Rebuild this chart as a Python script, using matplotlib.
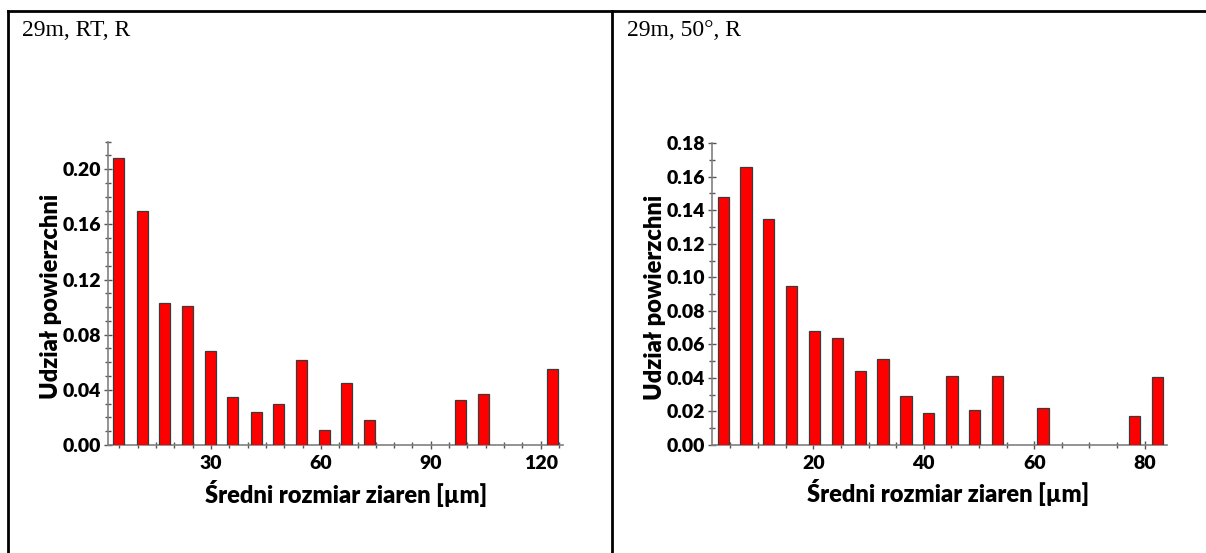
import matplotlib
matplotlib.use("Agg")
import matplotlib.pyplot as plt
from matplotlib.lines import Line2D
from matplotlib.ticker import MultipleLocator, FormatStrFormatter

# ---- data ----
left_title = "29m, RT, R"
right_title = "29m, 50°, R"
xlabel = "Średni rozmiar ziaren [µm]"
ylabel = "Udział powierzchni"

left_x = [4.9, 11.2, 17.4, 23.6, 29.8, 36.0, 42.3, 48.5, 54.7, 60.9, 67.1, 73.4,
          98.2, 104.5, 123.1]
left_y = [0.208, 0.170, 0.103, 0.101, 0.068, 0.035, 0.024, 0.030, 0.062, 0.011,
          0.045, 0.018, 0.033, 0.037, 0.055]

right_x = [3.7, 7.8, 11.9, 16.1, 20.2, 24.4, 28.5, 32.6, 36.8, 40.9, 45.1, 49.2,
           53.4, 61.6, 78.2, 82.3]
right_y = [0.148, 0.166, 0.135, 0.095, 0.068, 0.064, 0.044, 0.051, 0.029, 0.019,
           0.041, 0.021, 0.041, 0.022, 0.0175, 0.0405]

left_xticks = [30, 60, 90, 120]
right_xticks = [20, 40, 60, 80]

W, H = 1206, 553
fig = plt.figure(figsize=(W / 100, H / 100), dpi=100)
fig.patch.set_facecolor("white")

FONT = "Lato"
WEIGHT = "heavy"
AXCOL = "#808080"


def px_rect(x0, x1, ytop, ybot):
    return [x0 / W, 1 - ybot / H, (x1 - x0) / W, (ybot - ytop) / H]


def style(ax, xlim, ylim, xticks, ymajor, yminor, barw, xs, ys):
    ax.bar(xs, ys, width=barw, color="#ff0000", edgecolor="#3a3a3a", linewidth=0.9, zorder=3)
    ax.set_xlim(*xlim)
    ax.set_ylim(*ylim)
    for s in ["top", "right"]:
        ax.spines[s].set_visible(False)
    for s in ["left", "bottom"]:
        ax.spines[s].set_color(AXCOL)
        ax.spines[s].set_linewidth(1.2)
    ax.set_xticks(xticks)
    ax.xaxis.set_minor_locator(MultipleLocator(5))
    ax.yaxis.set_major_locator(MultipleLocator(ymajor))
    ax.yaxis.set_minor_locator(MultipleLocator(yminor))
    ax.yaxis.set_major_formatter(FormatStrFormatter("%.2f"))
    ax.tick_params(which="both", direction="inout", color="#555555", width=1)
    ax.tick_params(which="major", length=6)
    ax.tick_params(which="minor", length=4)
    ax.tick_params(axis="y", which="major", labelsize=14, pad=2)
    ax.tick_params(axis="x", which="major", labelsize=14, pad=4)
    for lab in ax.get_xticklabels() + ax.get_yticklabels():
        lab.set_fontfamily(FONT)
        lab.set_fontweight(WEIGHT)
    ax.set_xlabel(xlabel, fontsize=17, fontweight=WEIGHT, family=FONT)
    ax.set_ylabel(ylabel, fontsize=17, fontweight=WEIGHT, family=FONT)


axL = fig.add_axes(px_rect(108, 562.7, 141.7, 445))
style(axL, (1.9, 126.0), (0, 0.22), left_xticks, 0.04, 0.01, 3.0, left_x, left_y)
axL.xaxis.set_label_coords((346 - 108) / 454.7, -0.114)
axL.yaxis.set_label_coords(-0.101, 0.49)

axR = fig.add_axes(px_rect(711.7, 1167.3, 143.1, 445))
style(axR, (1.6, 84.1), (0, 0.18), right_xticks, 0.02, 0.01, 2.05, right_x, right_y)
axR.xaxis.set_label_coords((948 - 711.7) / 455.6, -0.114)
axR.yaxis.set_label_coords(-0.100, 0.49)

# table borders
lw = 2.0
fig.add_artist(Line2D([7.5 / W, 1.0], [1 - 11 / H, 1 - 11 / H], color="black", lw=lw))
fig.add_artist(Line2D([7.5 / W, 7.5 / W], [1 - 11 / H, 0], color="black", lw=lw))
fig.add_artist(Line2D([612 / W, 612 / W], [1 - 11 / H, 0], color="black", lw=lw))

# cell titles
fig.text(22 / W, 1 - 36 / H, left_title, family="Liberation Serif", fontsize=17, va="baseline")
fig.text(627 / W, 1 - 36 / H, right_title, family="Liberation Serif", fontsize=17, va="baseline")

fig.savefig("out.png", dpi=100, facecolor="white")
